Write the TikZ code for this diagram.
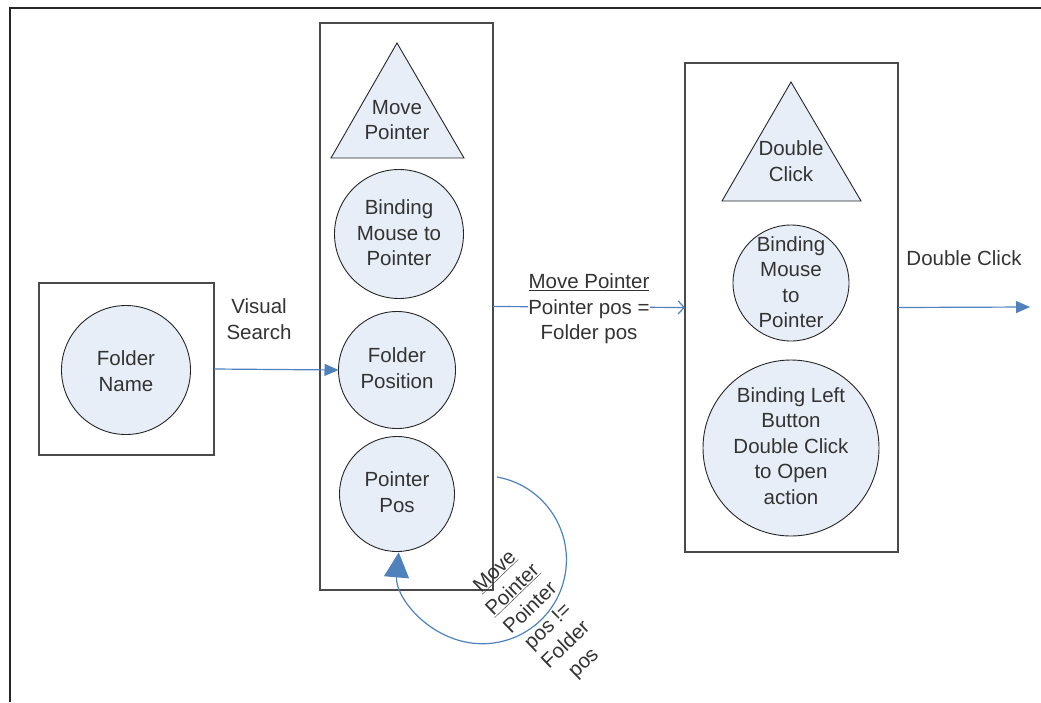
\documentclass[tikz,border=0pt]{standalone}
\usepackage{fontspec}
\setmainfont{Liberation Sans}
\usetikzlibrary{arrows.meta}
\definecolor{conn}{HTML}{4F81BD}
\definecolor{cfill}{HTML}{E8EEF8}
\definecolor{boxc}{HTML}{4A4A4A}
\definecolor{txt}{HTML}{333333}
\begin{document}
\begin{tikzpicture}[x=1pt,y=1pt,
  every node/.style={font=\fontsize{20.5}{25.5}\selectfont, text=txt, align=center, inner sep=0pt, outer sep=0pt},
  boxframe/.style={draw=boxc, line width=1.6pt},
  ell/.style={circle, draw=black!85, line width=0.9pt, fill=cfill},
  tri/.style={draw=black!85, line width=0.9pt, fill=cfill, line join=miter},
  conline/.style={draw=conn, line width=1.2pt},
  farrow/.style={conline, -{Triangle[length=14pt,width=12pt]}},
  oarrow/.style={conline, -{Straight Barb[length=6pt,width=13pt,line width=1.2pt]}},
  looparrow/.style={conline, -{Triangle[length=25pt,width=25pt]}}
]
\useasboundingbox (0,0) rectangle (1041,-702);
% outer frame
\draw[line width=2.5pt, draw=black!85] (10,-702) -- (10,-8) -- (1041,-8);

% containers
\node[boxframe, minimum width=175, minimum height=172] (lbox) at (126.5,-369) {};
\node[boxframe, minimum width=173, minimum height=567] (midbox) at (406.5,-306.5) {};
\node[boxframe, minimum width=213, minimum height=489] (rbox) at (791.5,-307.5) {};

% left box
\node[ell, minimum size=129] (fn) at (126,-370) {};
\node (fnt) at (126,-371) {Folder\\Name};

% middle box
\path[tri] (397,-43) -- (464,-158) -- (331,-158) -- cycle;
\node (mpt) at (397,-120) {Move\\Pointer};
\node[ell, minimum size=129] (bmp) at (399,-234) {};
\node (bmpt) at (399,-233) {Binding\\Mouse to\\Pointer};
\node[ell, minimum size=117] (fp) at (397,-370) {};
\node (fpt) at (397,-368) {Folder\\Position};
\node[ell, minimum size=115] (pp) at (397,-494) {};
\node (ppt) at (397,-492) {Pointer\\Pos};

% right box
\path[tri] (791,-82) -- (861,-201) -- (722,-201) -- cycle;
\node (dct) at (791,-161) {Double\\Click};
\node[ell, minimum size=116] (bmp2) at (791,-283) {};
\node (bmp2t) at (791,-282) {Binding\\Mouse\\to\\Pointer};
\node[ell, minimum size=176] (blb) at (791,-448) {};
\node (blbt) at (791,-446) {Binding Left\\Button\\Double Click\\to Open\\action};

% connectors
\draw[farrow] (lbox.east) -- (fp.west);
\node (vs) at (259,-319) {Visual\\Search};

\draw[oarrow] (midbox.east) -- (rbox.west);
\node[fill=white] (mplab) at (589,-309) {\underline{Move Pointer}\\Pointer pos =\\Folder pos};

\coordinate (outend) at (1030,-307);
\draw[farrow] (rbox.east) -- (outend);
\node (dcl) at (964,-258) {Double Click};

\coordinate (loopstart) at (497,-477);
\draw[looparrow] (loopstart) arc[start angle=80, end angle=-185, radius=84];
\node[rotate=44] (looplab) at (540,-618) {\underline{Move}\\\underline{Pointer}\\Pointer\\pos !=\\Folder\\pos};
\end{tikzpicture}
\end{document}
